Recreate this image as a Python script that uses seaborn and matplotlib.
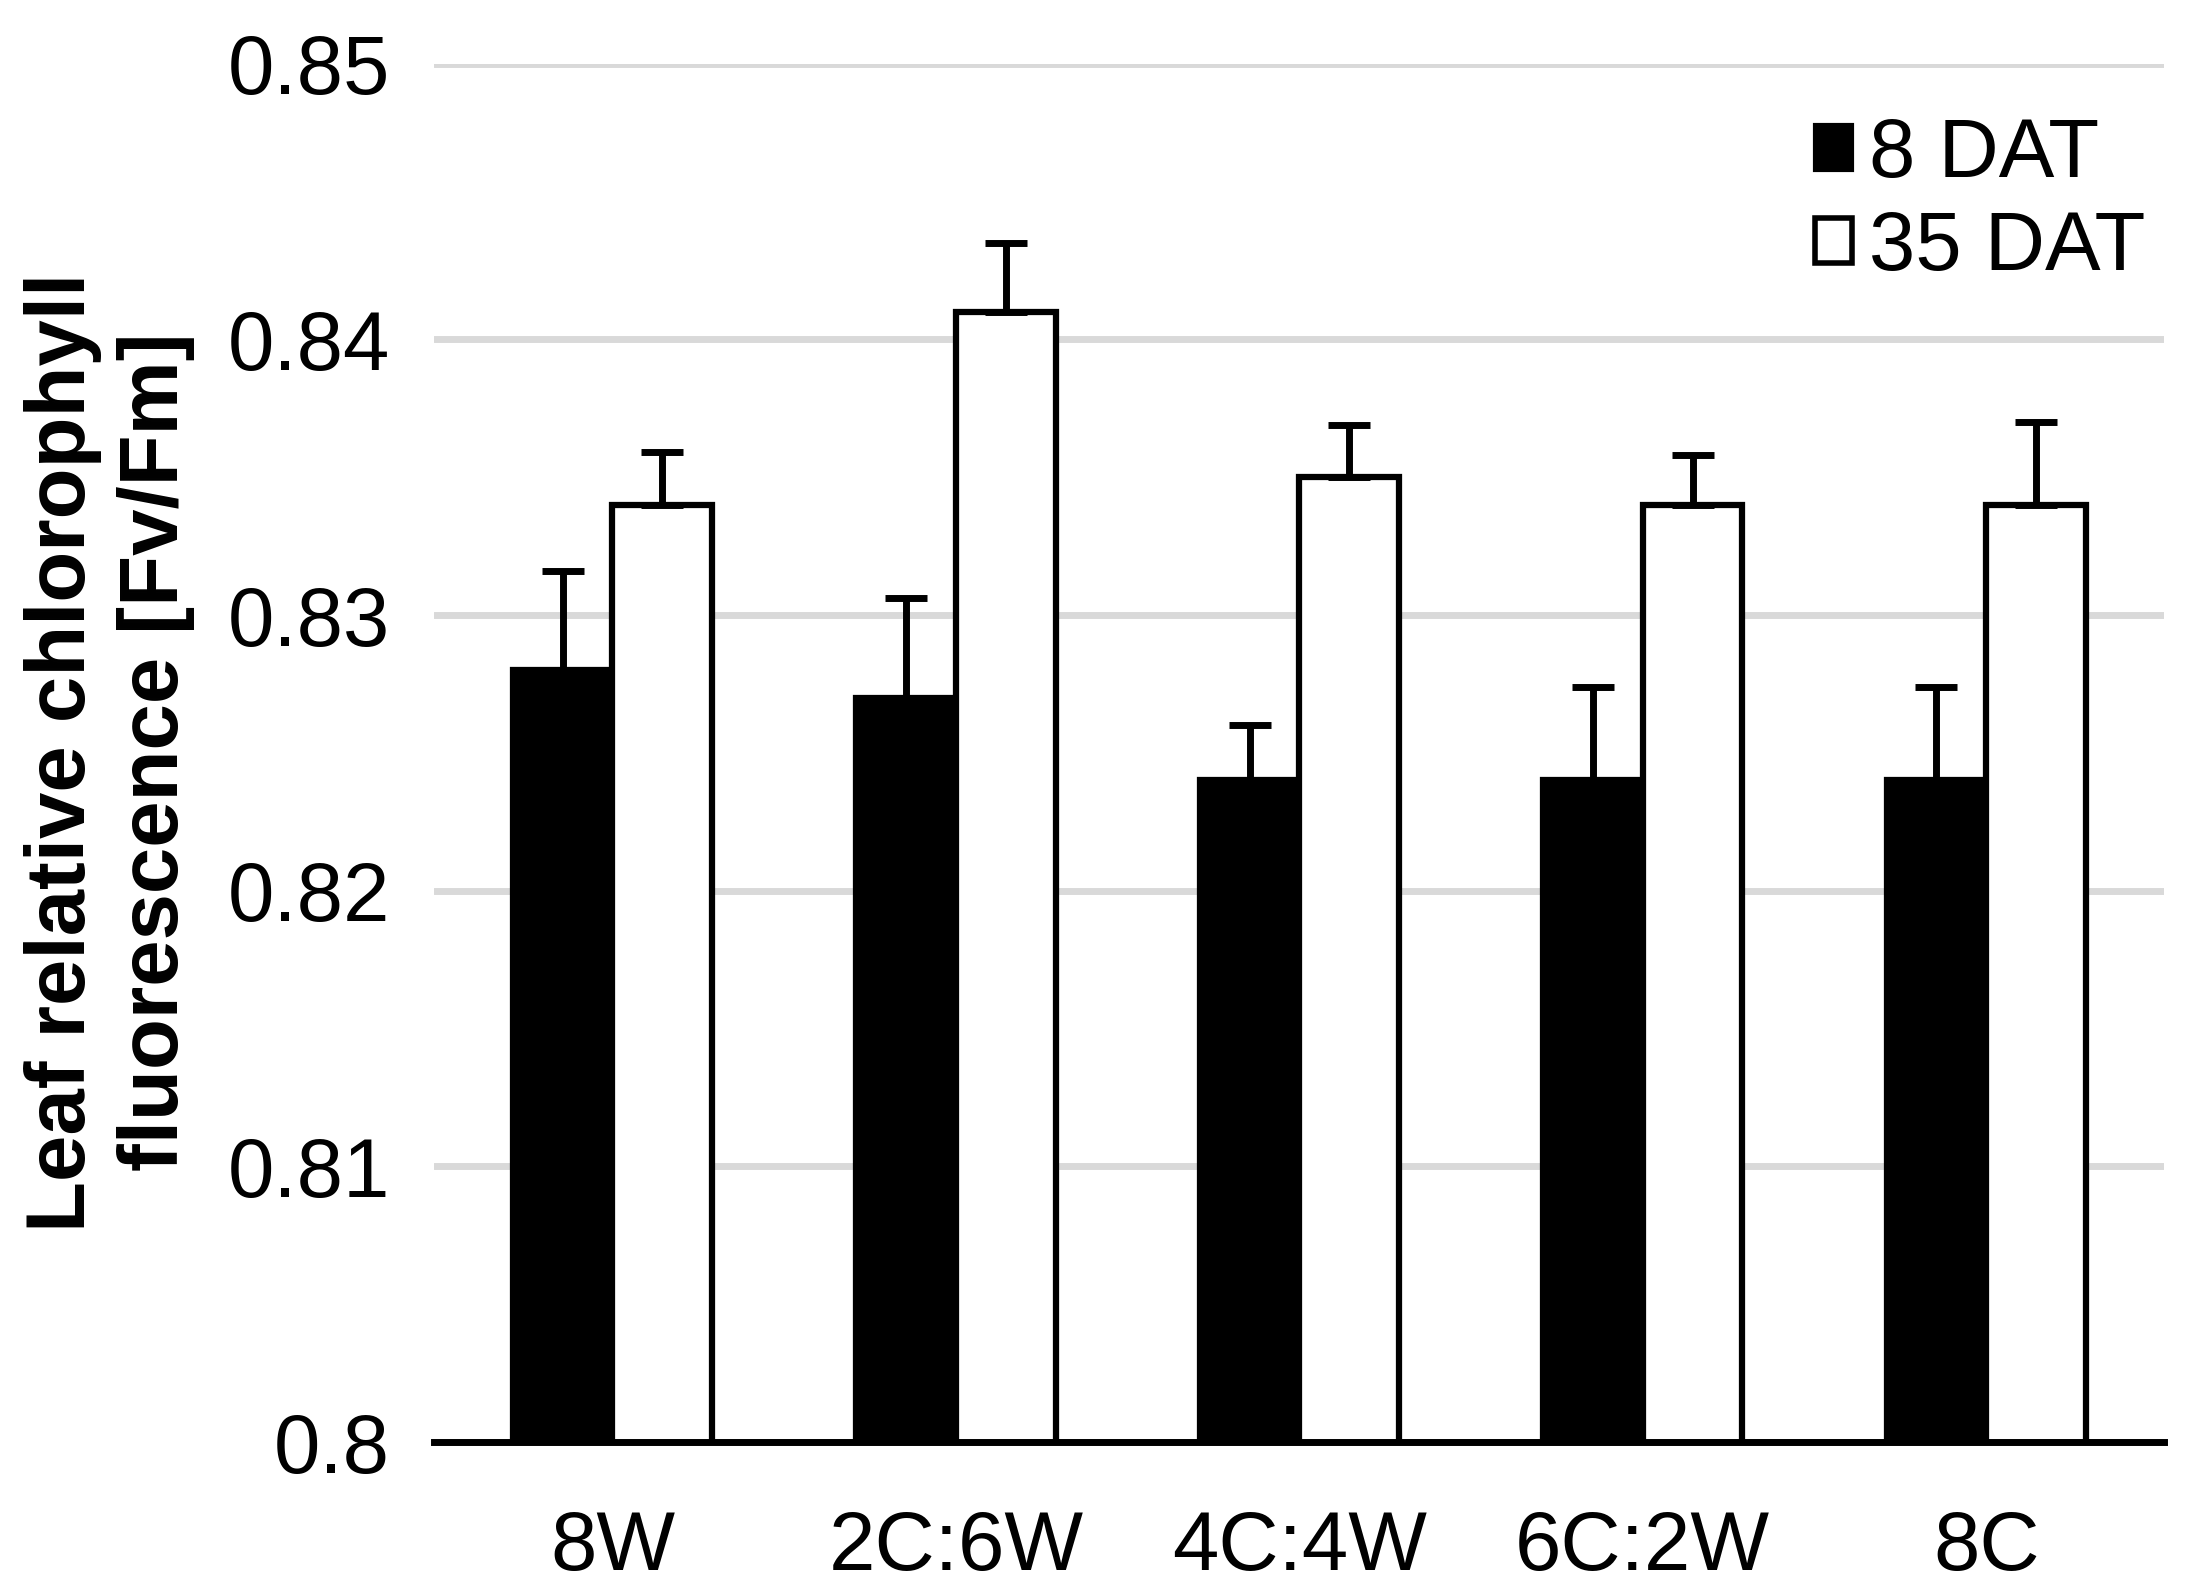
import numpy as np
import pandas as pd
import matplotlib
matplotlib.use('Agg')
import matplotlib.pyplot as plt
import seaborn as sns
from matplotlib.patches import Patch

# data
treatments = ['8W', '2C:6W', '4C:4W', '6C:2W', '8C']
series = ['8 DAT', '35 DAT']
fvfm_8dat = [0.828, 0.827, 0.824, 0.824, 0.824]
fvfm_35dat = [0.834, 0.841, 0.835, 0.834, 0.834]
err_8dat = [0.0036, 0.0036, 0.0020, 0.0034, 0.0034]
err_35dat = [0.0019, 0.0025, 0.0019, 0.0018, 0.0030]
y_ticks = [0.80, 0.81, 0.82, 0.83, 0.84, 0.85]

df = pd.DataFrame({
    'Treatment': treatments * 2,
    'Time': [series[0]] * 5 + [series[1]] * 5,
    'FvFm': fvfm_8dat + fvfm_35dat,
})

sns.set_style('white')
plt.rcParams['font.family'] = ['Liberation Sans', 'DejaVu Sans']
plt.rcParams['text.color'] = 'black'

fig = plt.figure(figsize=(21.93, 15.9), dpi=100)
ax = fig.add_axes([0.198, 0.093, 0.789, 0.867])

sns.barplot(data=df, x='Treatment', y='FvFm', hue='Time', order=treatments,
            hue_order=series, palette=['black', 'white'], edgecolor='black',
            linewidth=4.5, width=0.58, gap=0, errorbar=None, legend=False, ax=ax)

# upward-only error bars placed on the bars seaborn drew
for cont, errs in zip(ax.containers, [err_8dat, err_35dat]):
    xs = [b.get_x() + b.get_width() / 2 for b in cont]
    hs = [b.get_height() for b in cont]
    ax.errorbar(xs, hs, yerr=[np.zeros(len(errs)), errs], fmt='none',
                ecolor='black', elinewidth=5, capsize=15, capthick=5, zorder=5)

ax.set_ylim(0.80, 0.85)
ax.set_yticks(y_ticks)
ax.set_yticklabels([f'{t:g}' for t in y_ticks])
ax.yaxis.grid(True, color='#d9d9d9', linewidth=5)
ax.set_axisbelow(True)
for s in ['left', 'right', 'top']:
    ax.spines[s].set_visible(False)
ax.spines['bottom'].set_color('black')
ax.spines['bottom'].set_linewidth(5)
ax.tick_params(axis='y', length=0, pad=32, labelsize=60, labelcolor='black')
ax.tick_params(axis='x', length=0, pad=48, labelsize=60, labelcolor='black')
ax.set_xlabel('')
ax.set_ylabel('')

fig.text(0.050, 0.527, 'Leaf relative chlorophyll\nfluorescence [Fv/Fm]',
         rotation=90, ha='center', va='center', fontsize=60, fontweight='bold',
         color='black', family=['Liberation Sans Narrow', 'Liberation Sans'],
         linespacing=1.25)

handles = [Patch(facecolor='black', edgecolor='black', linewidth=3),
           Patch(facecolor='white', edgecolor='black', linewidth=4)]
ax.legend(handles, series, loc='upper right', bbox_to_anchor=(0.989, 0.962),
          frameon=False, fontsize=60, handlelength=0.45, handleheight=0.45,
          handletextpad=0.2, labelspacing=0.18, borderpad=0, borderaxespad=0,
          labelcolor='black')

plt.savefig('out.png', dpi=100)
plt.close()
